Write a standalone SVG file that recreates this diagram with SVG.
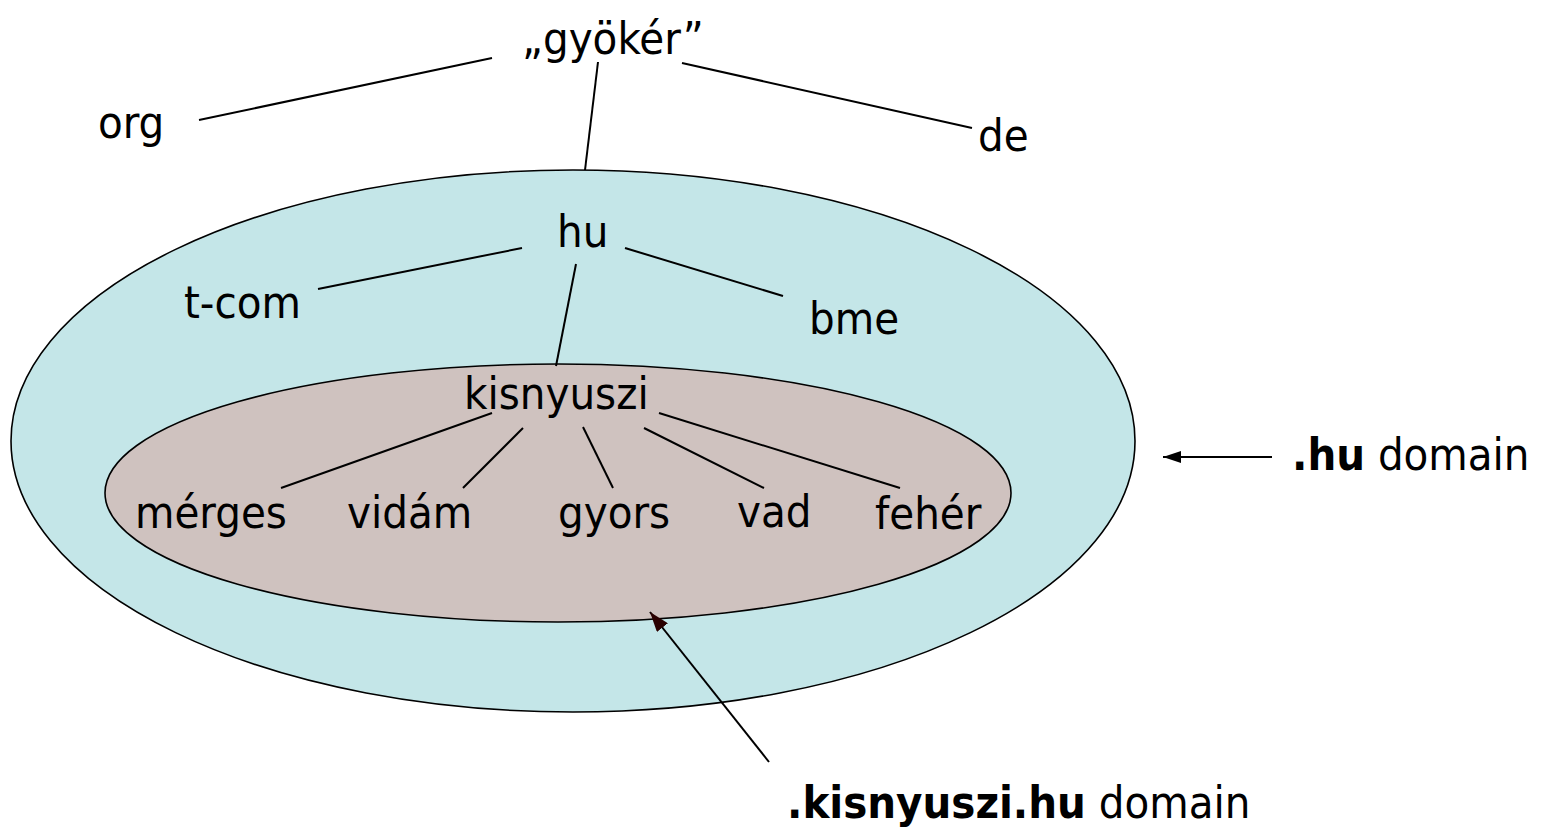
<svg xmlns="http://www.w3.org/2000/svg" width="1541" height="831" viewBox="0 0 1541 831">
  <style>
    text { font-family: "DejaVu Sans Condensed", "DejaVu Sans", sans-serif; font-stretch: condensed; font-size: 45px; fill: #000; }
    .b { font-weight: bold; }
    .zone { stroke: #000; stroke-width: 1.6; }
    .edge { stroke: #000; stroke-width: 2; fill: none; }
  </style>
  <defs>
    <marker id="headBlack" viewBox="0 0 18 12" refX="18" refY="6" markerWidth="18" markerHeight="12" markerUnits="userSpaceOnUse" orient="auto">
      <path d="M0,0 L18,6 L0,12 Z" fill="#000"/>
    </marker>
    <marker id="headDark" viewBox="0 0 20 14" refX="20" refY="7" markerWidth="20" markerHeight="14" markerUnits="userSpaceOnUse" orient="auto">
      <path d="M0,0 L20,7 L0,14 Z" fill="#2a0000"/>
    </marker>
  </defs>

  <!-- domain areas -->
  <g id="hu-zone">
    <ellipse class="zone" cx="573" cy="441" rx="562" ry="271" fill="#C4E6E8"/>
  </g>
  <g id="kisnyuszi-zone">
    <ellipse class="zone" cx="558" cy="493" rx="453" ry="129" fill="#CFC2BF"/>
  </g>

  <!-- tree edges and pointer arrows -->
  <g id="connectors">
    <line class="edge" x1="492" y1="58" x2="199" y2="120"/>
    <line class="edge" x1="682" y1="63" x2="972" y2="128"/>
    <line class="edge" x1="598" y1="62" x2="585" y2="170"/>
    <line class="edge" x1="522" y1="248" x2="318" y2="289"/>
    <line class="edge" x1="625" y1="248" x2="783" y2="296"/>
    <line class="edge" x1="576" y1="264" x2="556" y2="366"/>
    <line class="edge" x1="492" y1="413" x2="281" y2="488"/>
    <line class="edge" x1="523" y1="428" x2="463" y2="488"/>
    <line class="edge" x1="583" y1="427" x2="613" y2="488"/>
    <line class="edge" x1="644" y1="428" x2="764" y2="488"/>
    <line class="edge" x1="659" y1="413" x2="900" y2="488"/>
    <line class="edge" x1="1272" y1="457" x2="1163" y2="457" marker-end="url(#headBlack)"/>
    <line class="edge" x1="769" y1="762" x2="650" y2="612" marker-end="url(#headDark)"/>
  </g>

  <!-- nodes -->
  <g id="root"><text x="522" y="54">„gyökér”</text></g>
  <g id="org"><text x="98" y="138">org</text></g>
  <g id="de"><text x="978" y="151">de</text></g>
  <g id="hu"><text x="557" y="247">hu</text></g>
  <g id="t-com"><text x="184" y="318">t-com</text></g>
  <g id="bme"><text x="809" y="334">bme</text></g>
  <g id="kisnyuszi"><text x="464" y="409">kisnyuszi</text></g>
  <g id="merges"><text x="135" y="528">mérges</text></g>
  <g id="vidam"><text x="347" y="528">vidám</text></g>
  <g id="gyors"><text x="558" y="528">gyors</text></g>
  <g id="vad"><text x="737" y="527">vad</text></g>
  <g id="feher"><text x="875" y="529">fehér</text></g>

  <!-- domain labels -->
  <g id="hu-label"><text x="1292" y="470"><tspan class="b">.hu</tspan> domain</text></g>
  <g id="kisnyuszi-label"><text x="787" y="818"><tspan class="b">.kisnyuszi.hu</tspan> domain</text></g>
</svg>
